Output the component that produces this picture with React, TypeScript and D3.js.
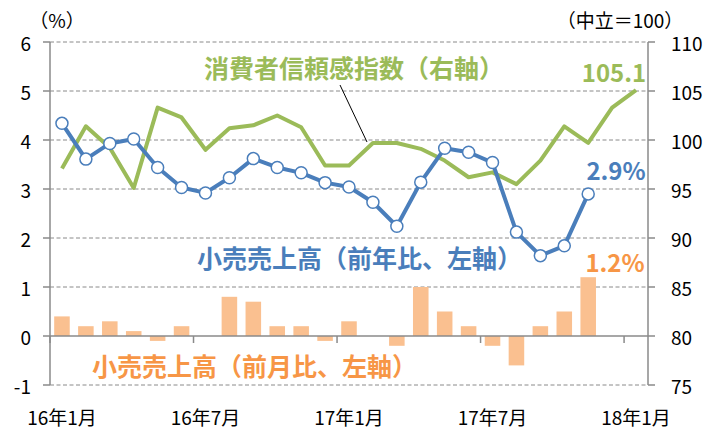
import React from "react";
import * as d3 from "d3";

const categories: string[] = [
  "16年1月", "16年2月", "16年3月", "16年4月", "16年5月", "16年6月",
  "16年7月", "16年8月", "16年9月", "16年10月", "16年11月", "16年12月",
  "17年1月", "17年2月", "17年3月", "17年4月", "17年5月", "17年6月",
  "17年7月", "17年8月", "17年9月", "17年10月", "17年11月", "17年12月",
  "18年1月",
];
const tickLabels: string[] = ["16年1月", "16年7月", "17年1月", "17年7月", "18年1月"];

// 小売売上高（前年比、%）
const retailYoY: number[] = [
  4.34, 3.61, 3.93, 4.02, 3.44, 3.03, 2.92, 3.23, 3.62, 3.44, 3.33, 3.13,
  3.04, 2.73, 2.24, 3.14, 3.83, 3.75, 3.54, 2.12, 1.64, 1.84, 2.9,
];
// 小売売上高（前月比、%）
const retailMoM: number[] = [
  0.4, 0.2, 0.3, 0.1, -0.1, 0.2, 0, 0.8, 0.7, 0.2, 0.2, -0.1,
  0.3, 0, -0.2, 1.0, 0.5, 0.2, -0.2, -0.6, 0.2, 0.5, 1.2,
];
// 消費者信頼感指数（中立=100）
const confidence: number[] = [
  97.1, 101.4, 99.2, 95.1, 103.3, 102.3, 99.0, 101.2, 101.5, 102.5, 101.3, 97.4,
  97.4, 99.7, 99.7, 99.1, 97.9, 96.2, 96.7, 95.5, 97.9, 101.4, 99.7, 103.3, 105.1,
];
const leftTicks: number[] = [-1, 0, 1, 2, 3, 4, 5, 6];
const rightTicks: number[] = [75, 80, 85, 90, 95, 100, 105, 110];

const BLUE = "#4A7EBB";
const GREEN = "#9BBB59";
const ORANGE = "#F79646";
const BAR = "#FAC090";
const GRID = "#8a8a8a";
const FONT = "'Noto Sans CJK JP', 'Noto Sans', sans-serif";

export default function App() {
  const W = 720, H = 428;
  const left = 50, right = 648, top = 42, bottom = 385;
  const x = d3.scaleBand<string>().domain(categories).range([left, right]).padding(0);
  const cx = (i: number) => (x(categories[i]) as number) + x.bandwidth() / 2;
  const yL = d3.scaleLinear().domain([-1, 6]).range([bottom, top]);
  const yR = d3.scaleLinear().domain([75, 110]).range([bottom, top]);
  const barW = x.bandwidth() * 0.65;

  const yoyLine = d3.line<number>().x((_, i) => cx(i)).y((d) => yL(d))(retailYoY) as string;
  const confLine = d3.line<number>().x((_, i) => cx(i)).y((d) => yR(d))(confidence) as string;

  return (
    <svg width={W} height={H} style={{ position: "absolute", left: 0, top: 0, background: "#fff" }} fontFamily={FONT}>
      {/* gridlines */}
      {leftTicks.filter((t) => t !== 0).map((t) => (
        <line key={"g" + t} x1={left} x2={right} y1={yL(t)} y2={yL(t)} stroke={GRID} strokeWidth={1} strokeDasharray="4,2.5" />
      ))}
      {/* bars */}
      {retailMoM.map((v, i) => (
        <rect key={"b" + i} x={cx(i) - barW / 2} width={barW}
          y={Math.min(yL(v), yL(0))} height={Math.abs(yL(v) - yL(0))} fill={BAR} />
      ))}
      {/* zero axis */}
      <line x1={left} x2={right} y1={yL(0)} y2={yL(0)} stroke={GRID} strokeWidth={1.5} />
      {tickLabels.map((lab) => {
        const i = categories.indexOf(lab);
        const xx = x(categories[i]) as number;
        return <line key={"xt" + lab} x1={xx} x2={xx} y1={yL(0)} y2={yL(0) + 7} stroke={GRID} strokeWidth={1.5} />;
      })}
      {/* axes */}
      <line x1={left} x2={left} y1={top} y2={bottom} stroke={GRID} strokeWidth={1.5} />
      <line x1={right} x2={right} y1={top} y2={bottom} stroke={GRID} strokeWidth={1.5} />
      {leftTicks.map((t) => (
        <g key={"lt" + t}>
          <line x1={left - 7} x2={left} y1={yL(t)} y2={yL(t)} stroke={GRID} strokeWidth={1.5} />
          <text x={31} y={yL(t)} textAnchor="end" dominantBaseline="central" fontSize={19} fill="#000">{t}</text>
        </g>
      ))}
      {rightTicks.map((t) => (
        <g key={"rt" + t}>
          <line x1={right} x2={right + 7} y1={yR(t)} y2={yR(t)} stroke={GRID} strokeWidth={1.5} />
          <text x={671} y={yR(t)} textAnchor="start" dominantBaseline="central" fontSize={19} fill="#000">{t}</text>
        </g>
      ))}
      {tickLabels.map((lab) => {
        const i = categories.indexOf(lab);
        return (
          <text key={"xl" + lab} x={cx(i)} y={416} textAnchor="middle" dominantBaseline="central" fontSize={19} fill="#000">{lab}</text>
        );
      })}
      <text x={57} y={19} textAnchor="middle" dominantBaseline="central" fontSize={19} fill="#000">（%）</text>
      <text x={620} y={19} textAnchor="middle" dominantBaseline="central" fontSize={19} fill="#000">（中立＝100）</text>

      {/* lines */}
      <path d={confLine} fill="none" stroke={GREEN} strokeWidth={4} strokeLinejoin="round" />
      <path d={yoyLine} fill="none" stroke={BLUE} strokeWidth={4} strokeLinejoin="round" />
      {retailYoY.map((v, i) => (
        <circle key={"m" + i} cx={cx(i)} cy={yL(v)} r={6} fill="#fff" stroke={BLUE} strokeWidth={1.5} />
      ))}

      {/* annotations */}
      <line x1={340} y1={85} x2={367} y2={142} stroke="#000" strokeWidth={1} />
      <text x={204} y={67} dominantBaseline="central" fontSize={25} fontWeight="bold" fill={GREEN}>消費者信頼感指数（右軸）</text>
      <text x={614} y={82} textAnchor="middle" fontSize={24} fontWeight="bold" fill={GREEN}>105.1</text>
      <text x={616} y={180} textAnchor="middle" fontSize={24} fontWeight="bold" fill={BLUE}>2.9%</text>
      <text x={615} y={272} textAnchor="middle" fontSize={24} fontWeight="bold" fill={ORANGE}>1.2%</text>
      <text x={197} y={257} dominantBaseline="central" fontSize={25} fontWeight="bold" fill={BLUE}>小売売上高（前年比、左軸）</text>
      <text x={92} y={365} dominantBaseline="central" fontSize={25} fontWeight="bold" fill={ORANGE}>小売売上高（前月比、左軸）</text>
    </svg>
  );
}
